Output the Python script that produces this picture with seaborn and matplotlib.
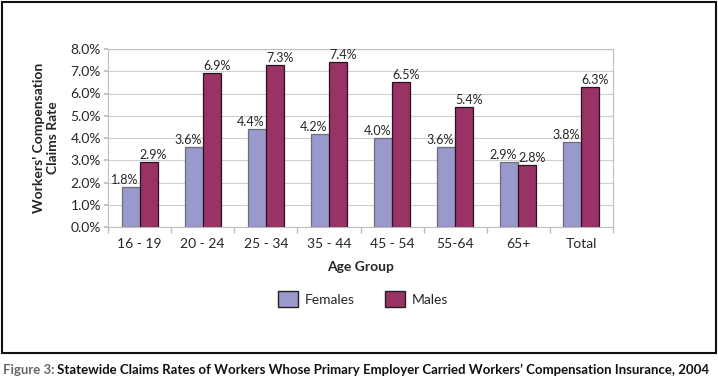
import matplotlib
matplotlib.use("Agg")
import matplotlib.pyplot as plt
import matplotlib.patches as mpatches
from matplotlib.ticker import PercentFormatter, FixedLocator
import seaborn as sns
import pandas as pd

age_groups = ["16 - 19", "20 - 24", "25 - 34", "35 - 44", "45 - 54", "55-64", "65+", "Total"]
females = [1.8, 3.6, 4.4, 4.2, 4.0, 3.6, 2.9, 3.8]
males = [2.9, 6.9, 7.3, 7.4, 6.5, 5.4, 2.8, 6.3]
series = ["Females", "Males"]
colors = {"Females": "#9999cc", "Males": "#993366"}
edges = {"Females": "#6e6e7a", "Males": "#2a1020"}
# labels sit slightly outward from the pair of bars, like the original
label_shift = {"Females": -6, "Males": 5}

df = pd.DataFrame({
    "Age Group": age_groups * 2,
    "Rate": females + males,
    "Sex": ["Females"] * len(age_groups) + ["Males"] * len(age_groups),
})

sns.set_theme(style="white")
plt.rcParams["font.family"] = ["Lato", "DejaVu Sans"]

fig = plt.figure(figsize=(7.18, 3.9), dpi=100)
ax = fig.add_axes([108 / 718, 1 - 227 / 390, 505 / 718, 178 / 390])

sns.barplot(data=df, x="Age Group", y="Rate", hue="Sex", hue_order=series,
            palette=colors, saturation=1, width=0.57, gap=0, ax=ax, legend=False)

for cont, s in zip(ax.containers, series):
    for b in cont:
        b.set_edgecolor(edges[s])
        b.set_linewidth(0.9)
        ax.annotate(f"{b.get_height():.1f}%", (b.get_x() + b.get_width() / 2, b.get_height()),
                    xytext=(label_shift[s], 1), textcoords="offset pixels",
                    ha="center", va="bottom", fontsize=9)

ax.set_ylim(0, 8)
ax.set_yticks(range(0, 9))
ax.yaxis.set_major_formatter(PercentFormatter(decimals=1))
ax.set_xlim(-0.5, len(age_groups) - 0.5)
ax.grid(axis="y", color="#cfcfcf", linewidth=0.8)
ax.set_axisbelow(True)
for sp in ax.spines.values():
    sp.set_color("#bdbdbd")
    sp.set_linewidth(0.8)

ax.xaxis.set_minor_locator(FixedLocator([i - 0.5 for i in range(len(age_groups) + 1)]))
ax.tick_params(axis="x", which="major", length=0, labelsize=10, pad=8)
ax.tick_params(axis="x", which="minor", length=4, color="#bdbdbd", bottom=True)
ax.tick_params(axis="y", length=3, color="#bdbdbd", labelsize=10, pad=2, left=True)

ax.set_xlabel("Age Group", fontsize=10, fontweight="bold", labelpad=8)
ax.set_ylabel("Workers' Compensation\nClaims Rate", fontsize=10, fontweight="bold", labelpad=8)

handles = [mpatches.Patch(facecolor=colors[s], edgecolor="#222222", label=s) for s in series]
fig.legend(handles=handles, loc="center", bbox_to_anchor=(363 / 718, 1 - 299 / 390), ncol=2,
           frameon=False, fontsize=10, handlelength=1.4, handleheight=1.4, columnspacing=2.2,
           handletextpad=0.5)

fig.patches.append(mpatches.Rectangle((1.5 / 718, 1 - 353 / 390), 714 / 718, 351.5 / 390,
                                      transform=fig.transFigure, fill=False,
                                      edgecolor="#111111", linewidth=1.5))

fig.text(3 / 718, 1 - 370 / 390, "Figure 3:", color="#666666", fontsize=9.5, va="center",
         fontweight="bold")
fig.text(57 / 718, 1 - 370 / 390,
         "Statewide Claims Rates of Workers Whose Primary Employer Carried Workers\u2019 Compensation Insurance, 2004",
         color="#111111", fontsize=9.5, va="center", fontweight="bold")

fig.savefig("out.png", dpi=100)
